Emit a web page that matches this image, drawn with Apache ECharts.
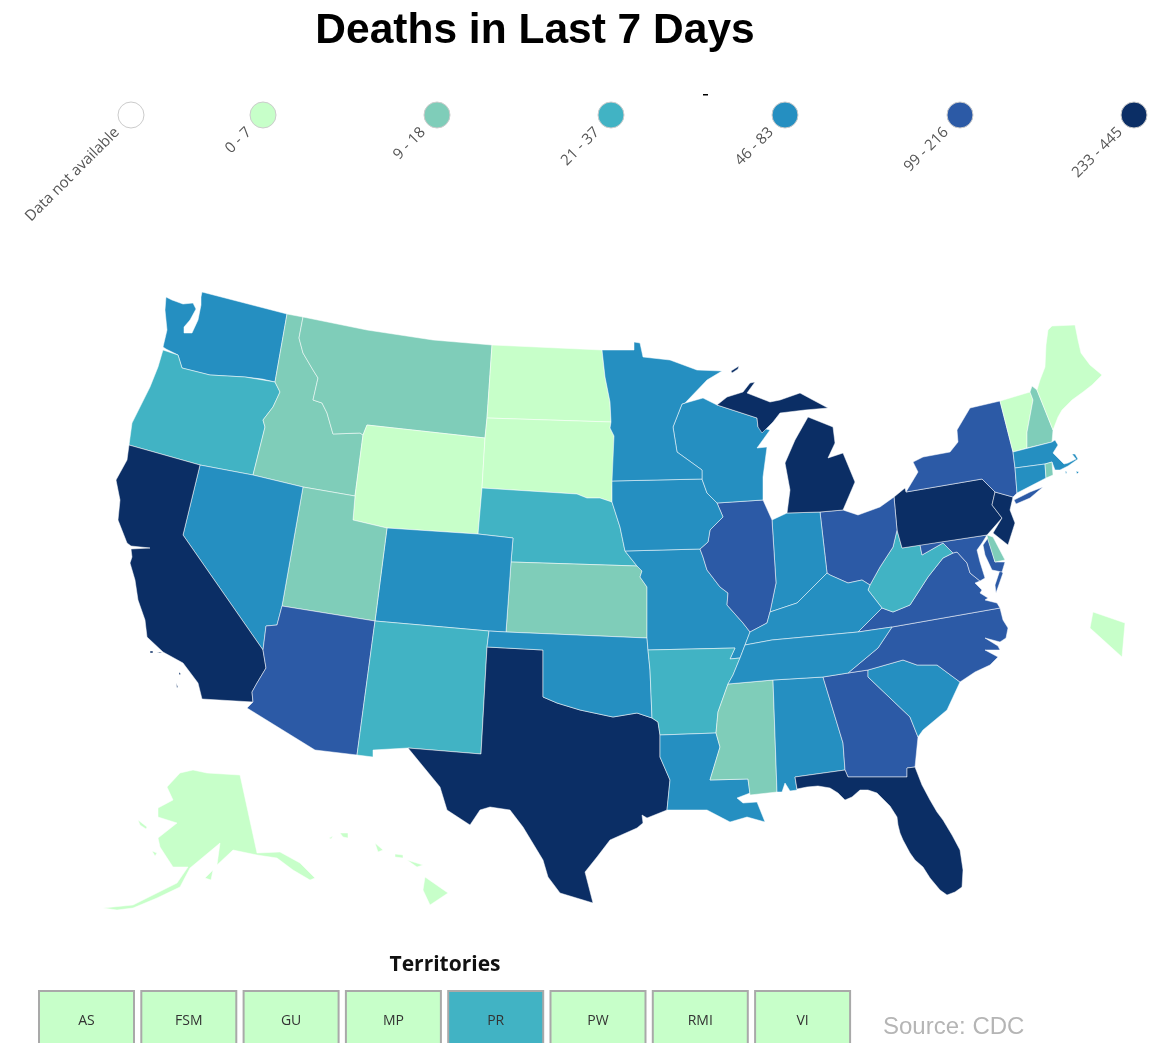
<!DOCTYPE html>
<html>
<head>
<meta charset="utf-8">
<style>
  html, body { margin: 0; padding: 0; background: #fff; }
  #chart { width: 1157px; height: 1043px; }
</style>
<script src="https://cdn.jsdelivr.net/npm/echarts@6/dist/echarts.min.js"></script>
</head>
<body>
<div id="chart"></div>
<script>
// legend and bins
const legendLabels = ['Data not available', '0 - 7', '9 - 18', '21 - 37', '46 - 83', '99 - 216', '233 - 445']
const legendColors = ['#ffffff', '#c7ffc9', '#7fcdb9', '#41b3c4', '#258fc1', '#2c5aa6', '#0b2e65']
const binLow = [0, 9, 21, 46, 99, 233]
const binHigh = [7, 18, 37, 83, 216, 445]

const states0to7 = ['WY', 'ND', 'SD', 'ME', 'VT', 'AK', 'HI', 'DC']
const states9to18 = ['MT', 'ID', 'UT', 'KS', 'MS', 'NH', 'RI', 'DE']
const states21to37 = ['OR', 'NE', 'NM', 'AR', 'WV']
const states46to83 = ['WA', 'NV', 'CO', 'MN', 'WI', 'IA', 'MO', 'OK', 'LA', 'AL', 'IN', 'KY', 'TN', 'SC', 'MA', 'CT']
const states99to216 = ['AZ', 'IL', 'OH', 'GA', 'VA', 'NC', 'NY', 'MD']
const states233to445 = ['CA', 'TX', 'FL', 'MI', 'PA', 'NJ']

const territories = ['AS', 'FSM', 'GU', 'MP', 'PR', 'PW', 'RMI', 'VI']
const territoryBins = [1, 1, 1, 1, 3, 1, 1, 1]

// state outlines (map geometry in page pixels)
const shapes = {
  WA: [[[166,297],[172,300],[183,304],[193,303],[196,309],[190,320],[184,327],[184,333],[192,333],[198,320],[201,305],[201,297],[202,292],[287,314],[275,382],[262,379],[245,377],[210,375],[182,368],[178,355],[166,349],[163,347],[167,330],[165,310]]],
  OR: [[[163,350],[178,355],[182,368],[210,375],[245,377],[275,382],[280,392],[273,407],[263,420],[265,427],[253,475],[200,465],[129,445],[132,423],[150,387],[158,367]]],
  ID: [[[287,314],[303,317],[299,338],[303,353],[313,370],[318,378],[313,400],[322,403],[327,413],[333,434],[360,433],[363,435],[355,496],[303,487],[253,475],[265,427],[263,420],[273,407],[280,392],[275,382]]],
  MT: [[[303,317],[367,330],[433,340],[492,345],[487,418],[485,438],[367,425],[363,435],[360,433],[333,434],[327,413],[322,403],[313,400],[318,378],[313,370],[303,353],[299,338]]],
  WY: [[[367,425],[485,438],[482,488],[478,534],[387,528],[353,520],[355,496],[363,435]]],
  ND: [[[492,345],[602,350],[605,377],[610,402],[611,422],[487,418]]],
  SD: [[[487,418],[611,422],[610,428],[614,436],[614,482],[612,486],[612,502],[600,498],[587,498],[577,494],[482,488],[485,438]]],
  NE: [[[482,488],[577,494],[587,498],[600,498],[612,502],[620,527],[625,551],[637,566],[511,562],[513,538],[478,534]]],
  KS: [[[511,562],[637,566],[642,571],[640,577],[647,587],[647,638],[506,632]]],
  CO: [[[387,528],[478,534],[513,538],[511,562],[506,632],[489,631],[375,621]]],
  UT: [[[303,487],[355,496],[353,520],[387,528],[375,621],[282,606]]],
  NV: [[[200,465],[253,475],[303,487],[282,606],[277,625],[266,626],[263,650],[183,535]]],
  CA: [[[129,445],[200,465],[183,535],[263,650],[266,668],[257,683],[252,692],[253,702],[202,699],[198,683],[183,663],[163,652],[147,637],[145,620],[138,600],[135,580],[130,563],[132,557],[131,549],[150,548],[131,546],[127,543],[118,520],[120,500],[116,480],[127,460]],
    [[150,651],[153,651],[153,653],[150,653]], [[157,652],[162,652],[160,653]], [[179,672],[181,674],[179,675]], [[176,683],[178,687],[177,688]]],
  AZ: [[[282,606],[375,621],[357,755],[315,750],[247,708],[253,702],[252,692],[257,683],[266,668],[263,650],[266,626],[277,625]]],
  NM: [[[375,621],[489,631],[487,647],[481,754],[408,748],[373,750],[373,757],[357,755]]],
  TX: [[[487,647],[543,650],[543,697],[557,703],[580,710],[613,717],[637,713],[652,718],[658,722],[660,735],[660,757],[670,780],[667,810],[647,818],[642,815],[643,823],[637,828],[610,840],[597,857],[585,872],[593,903],[560,893],[548,877],[543,860],[523,827],[510,810],[490,807],[480,810],[470,825],[447,810],[440,787],[408,748],[481,754]]],
  OK: [[[489,631],[506,632],[647,638],[648,650],[650,670],[652,718],[637,713],[613,717],[580,710],[557,703],[543,697],[543,650],[487,647]]],
  MO: [[[625,551],[700,549],[703,557],[707,570],[720,587],[728,593],[727,605],[743,623],[750,632],[745,645],[740,658],[730,659],[735,648],[648,650],[647,638],[647,587],[640,577],[642,571],[637,566]]],
  AR: [[[648,650],[735,648],[730,659],[740,658],[733,675],[728,684],[718,712],[716,733],[660,735],[658,722],[652,718],[650,670]]],
  LA: [[[660,735],[716,733],[720,747],[710,780],[748,779],[750,793],[737,798],[743,803],[757,802],[765,822],[747,817],[730,822],[707,810],[667,810],[670,780],[660,757]]],
  MS: [[[728,684],[773,680],[777,792],[750,795],[748,779],[710,780],[720,747],[716,733],[718,712]]],
  AL: [[[773,680],[823,677],[843,743],[845,770],[795,777],[797,790],[790,791],[785,783],[782,792],[777,792]]],
  GA: [[[823,677],[848,673],[868,670],[868,677],[910,717],[918,737],[915,767],[907,768],[907,777],[848,777],[845,770],[843,743]]],
  FL: [[[795,777],[845,770],[848,777],[907,777],[907,768],[915,767],[922,785],[930,800],[937,812],[943,820],[952,835],[960,850],[963,870],[962,887],[955,892],[947,895],[940,890],[930,878],[923,867],[915,860],[910,853],[903,840],[900,833],[898,825],[897,817],[890,806],[877,793],[868,790],[860,790],[852,797],[845,800],[838,793],[830,788],[818,786],[807,787],[797,789]]],
  SC: [[[868,670],[903,660],[917,665],[937,665],[960,682],[947,710],[923,730],[918,737],[910,717],[868,677]]],
  NC: [[[892,627],[1000,608],[1003,620],[1008,628],[1006,638],[1000,642],[985,638],[998,646],[1000,650],[985,650],[998,657],[990,665],[975,672],[960,682],[937,665],[917,665],[903,660],[868,670],[848,673],[878,648]]],
  VA: [[[858,632],[882,608],[893,612],[910,605],[928,577],[943,558],[953,553],[957,552],[967,563],[970,573],[980,581],[975,583],[982,590],[980,593],[988,598],[985,600],[997,603],[1000,608],[892,627]],
    [[1000,570],[1003,573],[996,593],[995,585]]],
  WV: [[[897,530],[902,548],[920,545],[922,555],[943,543],[953,553],[943,558],[928,577],[910,605],[893,612],[882,608],[868,590],[870,585],[880,567],[893,547]]],
  MD: [[[920,545],[987,535],[982,543],[977,550],[980,562],[985,578],[980,581],[970,573],[967,563],[957,552],[953,553],[943,543],[922,555]],
    [[988,538],[995,562],[1005,562],[1002,572],[992,570],[985,555],[983,545]]],
  DE: [[[987,535],[993,537],[1005,560],[995,562],[988,540]]],
  PA: [[[894,497],[905,488],[906,492],[982,479],[995,492],[992,505],[1002,518],[987,535],[902,548],[897,530]]],
  NJ: [[[995,492],[1013,497],[1010,510],[1015,523],[1008,545],[993,533],[1002,518],[992,505]]],
  NY: [[[906,492],[918,472],[913,462],[923,457],[950,452],[958,442],[957,430],[970,408],[1000,401],[1013,452],[1015,468],[1017,493],[1013,497],[995,492],[982,479]],
    [[1014,500],[1030,492],[1043,487],[1030,498],[1016,504]]],
  VT: [[[1000,401],[1030,392],[1033,400],[1027,432],[1027,448],[1013,452]]],
  NH: [[[1032,386],[1037,390],[1053,430],[1052,442],[1027,448],[1027,432],[1033,400],[1030,392]]],
  ME: [[[1037,390],[1040,380],[1045,367],[1046,345],[1048,330],[1052,326],[1075,325],[1078,340],[1081,353],[1090,365],[1102,375],[1092,385],[1083,392],[1072,400],[1062,410],[1058,417],[1053,430]]],
  MA: [[[1013,452],[1052,442],[1055,440],[1058,445],[1053,453],[1064,464],[1068,463],[1076,459],[1072,454],[1075,454],[1078,459],[1068,466],[1060,470],[1055,470],[1052,462],[1045,464],[1015,468]],
    [[1065,471],[1067,472],[1066,474]], [[1076,471],[1079,472],[1077,474]]],
  CT: [[[1015,468],[1045,464],[1046,478],[1017,493]]],
  RI: [[[1045,464],[1052,462],[1053,475],[1046,478]]],
  DC: [[[1093,612],[1125,623],[1122,657],[1090,628]]],
  OH: [[[820,512],[843,510],[858,515],[880,507],[894,497],[897,530],[893,547],[880,567],[870,585],[862,580],[848,583],[830,575],[827,573]]],
  IN: [[[772,520],[787,513],[820,512],[827,573],[813,587],[797,603],[770,612],[776,583]]],
  IL: [[[717,503],[763,500],[772,520],[776,583],[770,612],[767,623],[750,632],[743,623],[727,605],[728,593],[720,587],[707,570],[703,557],[700,549],[708,542],[710,530],[723,517]]],
  IA: [[[612,481],[702,479],[707,493],[717,503],[723,517],[710,530],[708,542],[700,549],[625,551],[620,527],[612,502]]],
  WI: [[[682,404],[673,427],[677,452],[702,470],[702,479],[707,493],[717,503],[763,500],[763,477],[767,447],[757,448],[770,430],[758,427],[757,418],[717,405],[703,398]]],
  MN: [[[602,350],[634,350],[634,342],[640,343],[643,357],[670,360],[697,370],[722,371],[707,380],[685,403],[682,404],[673,427],[677,452],[702,470],[702,479],[612,481],[614,436],[610,428],[611,422],[610,402],[605,377]]],
  MI: [[[717,405],[727,397],[743,392],[750,383],[755,382],[747,393],[770,402],[780,400],[800,393],[813,400],[828,408],[805,410],[780,413],[773,422],[762,433],[758,427],[757,418]],
    [[808,417],[833,427],[835,443],[828,458],[843,453],[855,482],[843,510],[820,512],[787,513],[790,490],[785,463],[795,440]],
    [[731,371],[739,366],[738,369],[732,373]]],
  KY: [[[750,632],[767,623],[770,612],[797,603],[813,587],[827,573],[830,575],[848,583],[862,580],[870,585],[868,590],[882,608],[858,632],[772,640],[745,645]]],
  TN: [[[745,645],[772,640],[858,632],[892,627],[878,648],[848,673],[823,677],[773,680],[728,684],[733,675],[740,658]]],
  AK: [[[180,773],[193,770],[207,773],[240,775],[257,853],[280,852],[300,863],[315,878],[310,880],[293,870],[277,858],[257,855],[233,850],[217,865],[220,843],[190,868],[180,887],[157,898],[133,908],[117,910],[103,908],[133,905],[157,893],[177,883],[188,867],[173,867],[160,847],[158,838],[177,823],[158,817],[158,808],[173,800],[167,787]],
    [[138,820],[147,827],[146,829],[140,825]], [[205,878],[213,870],[211,880]], [[152,851],[157,853],[155,856]]],
  HI: [[[425,877],[448,893],[430,905],[423,890]], [[407,860],[423,865],[417,867]], [[395,854],[403,855],[403,858],[395,857]],
    [[375,843],[383,850],[378,852]], [[340,833],[348,833],[348,838],[343,837]], [[329,838],[333,836],[331,839]]]
}

const stateBins = [states0to7, states9to18, states21to37, states46to83, states99to216, states233to445]

// colors are looked up through visualMap, the value is the low end of the bin
const mapData = []
stateBins.forEach((list, i) => {
  list.forEach((name) => {
    mapData.push({ name: name, value: binLow[i] })
  })
})

const features = Object.keys(shapes).map((name) => ({
  type: 'Feature',
  properties: { name: name },
  geometry: { type: 'MultiPolygon', coordinates: shapes[name].map((ring) => [ring]) }
}))
echarts.registerMap('us', { type: 'FeatureCollection', features: features })

let minX = Infinity, minY = Infinity, maxX = -Infinity, maxY = -Infinity
Object.keys(shapes).forEach((name) => {
  shapes[name].forEach((ring) => {
    ring.forEach((p) => {
      minX = Math.min(minX, p[0]); maxX = Math.max(maxX, p[0])
      minY = Math.min(minY, p[1]); maxY = Math.max(maxY, p[1])
    })
  })
})

// legend layout
const legendX = [131, 263, 437, 611, 785, 960, 1134]
const legendY = 115
const graphics = []
legendLabels.forEach((label, i) => {
  graphics.push({
    type: 'circle',
    shape: { cx: legendX[i], cy: legendY, r: 13 },
    style: { fill: legendColors[i], stroke: '#cccccc', lineWidth: 1 }
  })
  graphics.push({
    type: 'text',
    x: legendX[i] - 14,
    y: legendY + 15,
    rotation: Math.PI / 4,
    style: {
      text: label,
      align: 'right',
      verticalAlign: 'middle',
      font: '15px "Open Sans"',
      fill: '#555555'
    }
  })
})
graphics.push({ type: 'rect', shape: { x: 703, y: 94, width: 5, height: 1.5 }, style: { fill: '#000' } })

graphics.push({
  type: 'text',
  x: 445,
  y: 965,
  style: { text: 'Territories', align: 'center', verticalAlign: 'middle', font: 'bold 21px "Open Sans"', fill: '#111' }
})
const tileLeft = 39
const tileStep = 102.3
territories.forEach((name, i) => {
  const x = tileLeft + i * tileStep
  graphics.push({
    type: 'rect',
    shape: { x: x, y: 991, width: 95, height: 60 },
    style: { fill: legendColors[territoryBins[i]], stroke: '#a9a9a9', lineWidth: 2 }
  })
  graphics.push({
    type: 'text',
    x: x + 47.5,
    y: 1021,
    style: { text: name, align: 'center', verticalAlign: 'middle', font: '14px "Open Sans"', fill: '#333' }
  })
})
graphics.push({
  type: 'text',
  x: 883,
  y: 1027,
  style: { text: 'Source: CDC', align: 'left', verticalAlign: 'middle', font: '24px "Liberation Sans"', fill: '#b5b5b5' }
})

const myChart = echarts.init(document.getElementById('chart'), null, { renderer: 'canvas' })
myChart.setOption({
  animation: false,
  backgroundColor: '#fff',
  title: {
    text: 'Deaths in Last 7 Days',
    left: 530,
    top: 5,
    textAlign: 'center',
    textStyle: { fontFamily: 'Liberation Sans', fontWeight: 'bold', fontSize: 42.5, color: '#000' }
  },
  visualMap: {
    show: false,
    type: 'piecewise',
    seriesIndex: 0,
    pieces: binLow.map((low, i) => ({ min: low, max: binHigh[i], color: legendColors[i + 1] }))
  },
  series: [
    {
      type: 'map',
      map: 'us',
      projection: { project: (p) => p, unproject: (p) => p },
      left: minX,
      top: minY,
      width: maxX - minX,
      height: maxY - minY,
      roam: false,
      silent: true,
      label: { show: false },
      itemStyle: { borderColor: 'rgba(255,255,255,0.5)', borderWidth: 1 },
      data: mapData
    }
  ],
  graphic: graphics
})
</script>
</body>
</html>
